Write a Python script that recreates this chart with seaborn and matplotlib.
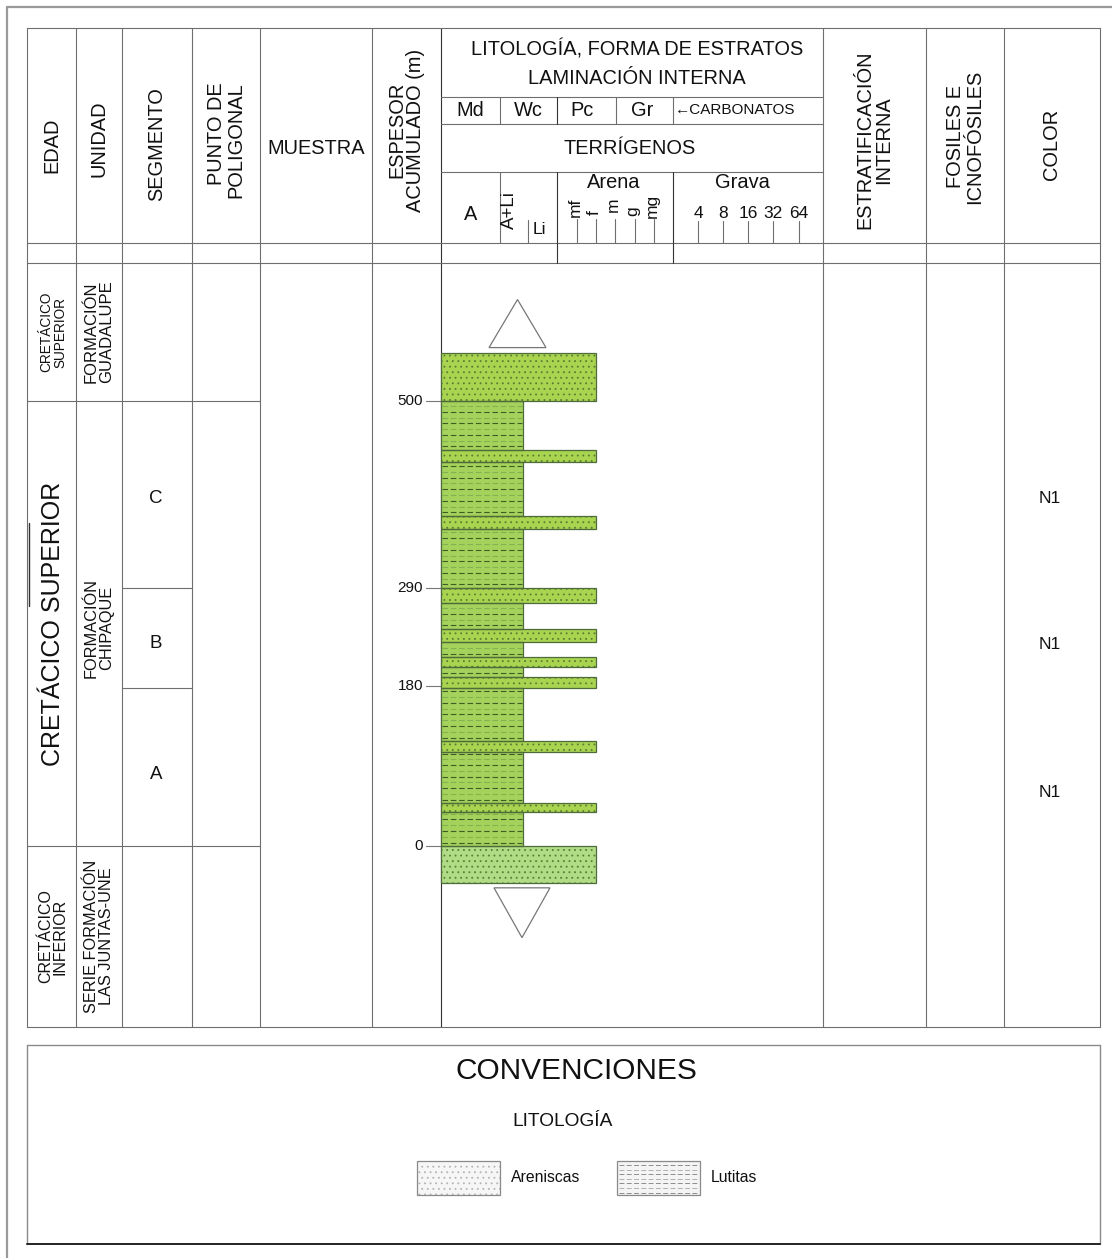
import numpy as np
import pandas as pd
import matplotlib
matplotlib.use("Agg")
import matplotlib.pyplot as plt
import seaborn as sns
from matplotlib.patches import Rectangle, Polygon

# ---------------- data ----------------
bed_base_m = [-42, 0, 38, 48, 106, 118, 178, 190, 201, 212, 229, 244, 273, 290, 356, 371, 431, 445, 500]
bed_top_m = [0, 38, 48, 106, 118, 178, 190, 201, 212, 229, 244, 273, 290, 356, 371, 431, 445, 500, 554]
bed_lith = ["Arenisca", "Lutita", "Arenisca", "Lutita", "Arenisca", "Lutita", "Arenisca",
            "Lutita", "Arenisca", "Lutita", "Arenisca", "Lutita", "Arenisca", "Lutita",
            "Arenisca", "Lutita", "Arenisca", "Lutita", "Arenisca"]
bed_grain = ["f" if l == "Arenisca" else "Li" for l in bed_lith]
bed_unit = ["Las Juntas"] + ["Chipaque"] * 17 + ["Guadalupe"]

thickness_ticks_m = [0, 180, 290, 500]
formation_bounds_m = [0, 500]
segment_bounds_m = [178, 290]
segment_names = ["A", "B", "C"]
segment_label_m = [80, 228, 390]
color_label_m = [60, 226, 391]
color_codes = ["N1", "N1", "N1"]

age_labels = ["CRETÁCICO\nINFERIOR", "CRETÁCICO SUPERIOR", "CRETÁCICO\nSUPERIOR"]
unit_labels = ["SERIE FORMACIÓN\nLAS JUNTAS-UNE", "FORMACIÓN\nCHIPAQUE", "FORMACIÓN\nGUADALUPE"]

arena_classes = ["mf", "f", "m", "g", "mg"]
grava_classes = ["4", "8", "16", "32", "64"]
carb_classes = ["Md", "Wc", "Pc", "Gr"]

# ---------------- layout / style ----------------
W, H = 1112, 1258
sns.set_theme(style="white")
plt.rcParams["font.family"] = ["Liberation Sans", "DejaVu Sans"]
plt.rcParams["hatch.linewidth"] = 0.6

LINE = "#6e6e6e"
DARK = "#333333"
LW = 0.8
FS = 14.4
TXT = "#111111"

fig = plt.figure(figsize=(W / 100, H / 100), dpi=100)
ax = fig.add_axes([0, 0, 1, 1])
ax.set_xlim(0, W)
ax.set_ylim(H, 0)
ax.axis("off")

# outer frame
ax.plot([7, W], [7, 7], color="#9a9a9a", lw=1.6)
ax.plot([7, 7], [7, H], color="#9a9a9a", lw=1.6)

T_TOP, T_HDR, T_ROW, T_BOT = 28, 243, 263, 1027
XL, XR = 27, 1100
cols = [27, 76, 122, 192, 260, 372, 441, 823, 926, 1004, 1100]
for x in cols:
    ax.plot([x, x], [T_TOP, T_BOT], color=DARK if x == 441 else LINE, lw=LW)
for y in [T_TOP, T_HDR, T_ROW, T_BOT]:
    ax.plot([XL, XR], [y, y], color=LINE, lw=LW)
# darker stroke on left border
ax.plot([29, 29], [523, 606], color=DARK, lw=1.0)

# lithology header internal lines
for y in [97, 124, 172]:
    ax.plot([441, 823], [y, y], color=LINE, lw=LW)
ax.plot([500, 500], [97, 124], color=LINE, lw=LW)
ax.plot([500, 500], [172, 243], color=LINE, lw=LW)
ax.plot([557, 557], [97, 124], color=DARK, lw=LW)
ax.plot([557, 557], [172, 263], color=DARK, lw=LW)
ax.plot([616, 616], [97, 124], color=LINE, lw=LW)
ax.plot([673, 673], [97, 124], color=LINE, lw=LW)
ax.plot([673, 673], [172, 263], color=DARK, lw=LW)
ax.plot([528, 528], [220, 243], color=LINE, lw=LW)

# header texts
def vtext(x, y, s, fs=FS, ma="center"):
    ax.text(x, y, s, rotation=90, ha="center", va="center", fontsize=fs,
            multialignment=ma, linespacing=1.0, color=TXT)

vtext(52, 145, "EDAD")
vtext(99, 139, "UNIDAD")
vtext(157, 144, "SEGMENTO")
vtext(226, 140, "PUNTO DE\nPOLIGONAL", ma="right")
ax.text(316, 148, "MUESTRA", ha="center", va="center", fontsize=FS, color=TXT)
vtext(406, 130, "ESPESOR\nACUMULADO (m)")
vtext(874, 140, "ESTRATIFICACIÓN\nINTERNA")
vtext(965, 137, "FOSILES E\nICNOFÓSILES")
vtext(1052, 144, "COLOR")

ax.text(637, 49, "LITOLOGÍA, FORMA DE ESTRATOS", ha="center", va="center", fontsize=FS, color=TXT)
ax.text(637, 79, "LAMINACIÓN INTERNA", ha="center", va="center", fontsize=FS, color=TXT)
for s, x in zip(carb_classes, [470, 528, 582, 642]):
    ax.text(x, 111, s, ha="center", va="center", fontsize=FS, color=TXT)
ax.text(675, 110, "←CARBONATOS", ha="left", va="center", fontsize=11, color=TXT)
ax.text(630, 148, "TERRÍGENOS", ha="center", va="center", fontsize=FS, color=TXT)
ax.text(471, 215, "A", ha="center", va="center", fontsize=FS, color=TXT)
vtext(509, 210, "A+Li", fs=13.5)
ax.text(539, 229, "Li", ha="center", va="center", fontsize=12.5, color=TXT)
ax.text(614, 183, "Arena", ha="center", va="center", fontsize=FS, color=TXT)
ax.text(742, 183, "Grava", ha="center", va="center", fontsize=FS, color=TXT)
arena_x = [577, 596, 615, 635, 654]
arena_ty = [207, 213, 205, 211, 206]
for s, x, ty in zip(arena_classes, arena_x, arena_ty):
    ax.text(x - 2, ty, s, rotation=90, ha="center", va="center", fontsize=12.5, color=TXT)
    ax.plot([x, x], [219, 243], color=LINE, lw=LW)
grava_x = [698, 723, 748, 773, 799]
for s, x in zip(grava_classes, grava_x):
    ax.text(x, 213, s, ha="center", va="center", fontsize=12.5, color=TXT)
    ax.plot([x, x], [221, 243], color=LINE, lw=LW)

# ---------------- body axes (meters) ----------------
Y0_PX, PX_PER_M = 846, 0.89
ytop_m = (Y0_PX - T_ROW) / PX_PER_M
ybot_m = (Y0_PX - T_BOT) / PX_PER_M
axb = fig.add_axes([XL / W, 1 - T_BOT / H, (XR - XL) / W, (T_BOT - T_ROW) / H])
axb.set_xlim(XL, XR)
axb.set_ylim(ybot_m, ytop_m)
axb.axis("off")
axb.patch.set_alpha(0)

for m in formation_bounds_m:
    axb.plot([27, 260], [m, m], color=LINE, lw=LW)
for m in segment_bounds_m:
    axb.plot([122, 192], [m, m], color=LINE, lw=LW)

age_int = [(ybot_m, 0), (0, 500), (500, ytop_m)]
age_fs = [11.5, 18, 9.8]
unit_fs = [11.7, 11.8, 12]
for (a, b), s, fs in zip(age_int, age_labels, age_fs):
    axb.text(53, (a + b) / 2, s, rotation=90, ha="center", va="center", fontsize=fs,
             linespacing=1.0, color=TXT)
for (a, b), s, fs in zip(age_int, unit_labels, unit_fs):
    axb.text(99, (a + b) / 2 - (5 if "CHIPAQUE" in s else 0), s, rotation=90, ha="center",
             va="center", fontsize=fs, linespacing=1.0, color=TXT)
for s, m in zip(segment_names, segment_label_m):
    axb.text(156, m, s, ha="center", va="center", fontsize=13.5, color=TXT)
for s, m in zip(color_codes, color_label_m):
    axb.text(1050, m, s, ha="center", va="center", fontsize=12.5, color=TXT)

for m in thickness_ticks_m:
    axb.plot([426, 441], [m, m], color="#777777", lw=LW)
    axb.text(423, m, str(m), ha="right", va="center", fontsize=11, color=TXT)

# lithologic column
COL_X0 = 441
grain_edge = {"Li": 523, "f": 596}
df = pd.DataFrame({"base": bed_base_m, "top": bed_top_m, "lith": bed_lith,
                   "grain": bed_grain, "unit": bed_unit})
df["thick"] = df["top"] - df["base"]
df["width"] = df["grain"].map(grain_edge) - COL_X0

SAND = "#a8d450"
SAND_LIGHT = "#b0dc86"
SHALE = "#a4d25c"
DASH_STEP = 6.5
for _, r in df.iterrows():
    if r.lith == "Arenisca":
        fill = SAND_LIGHT if r.unit == "Las Juntas" else SAND
        axb.barh(r.base, r.width, height=r.thick, left=COL_X0, align="edge",
                 color=fill, edgecolor="#5a7d34", linewidth=0, hatch="...", zorder=2)
    else:
        axb.barh(r.base, r.width, height=r.thick, left=COL_X0, align="edge",
                 color=SHALE, linewidth=0, zorder=2)
        ys = np.arange(r.base + DASH_STEP * 0.6, r.top - 1.5, DASH_STEP)
        for i, yy in enumerate(ys):
            c = "#3f5e25" if i % 2 == 0 else "#82b24a"
            axb.plot([COL_X0 + 1, COL_X0 + r.width - 1], [yy, yy], color=c, lw=0.8,
                     linestyle=(0, (5, 2.5)), zorder=3)
    axb.barh(r.base, r.width, height=r.thick, left=COL_X0, align="edge",
             fill=False, edgecolor="#4f6b3a", linewidth=0.9, zorder=4)

top_m = df["top"].max()
bot_m = df["base"].min()
axb.add_patch(Polygon([[489, top_m + 6], [546, top_m + 6], [517.5, top_m + 60]],
                      closed=True, facecolor="white", edgecolor="#777777", lw=0.9, zorder=5))
axb.add_patch(Polygon([[494, bot_m - 5], [550, bot_m - 5], [522, bot_m - 61]],
                      closed=True, facecolor="white", edgecolor="#777777", lw=0.9, zorder=5))

# ---------------- legend ----------------
ax.plot([27, 1100], [1045, 1045], color="#8a8a8a", lw=1.0)
ax.plot([27, 27], [1045, 1244], color="#8a8a8a", lw=1.0)
ax.plot([1100, 1100], [1045, 1244], color="#8a8a8a", lw=1.0)
ax.plot([27, 1100], [1244, 1244], color="#222222", lw=1.4)
ax.text(576, 1071, "CONVENCIONES", ha="center", va="center", fontsize=21.5, color=TXT)
ax.text(563, 1121, "LITOLOGÍA", ha="center", va="center", fontsize=13.8, color=TXT)
ax.add_patch(Rectangle((417, 1161), 83, 34, facecolor="#f6f6f6", edgecolor="#b5b5b5",
                       hatch="...", lw=0))
ax.add_patch(Rectangle((417, 1161), 83, 34, fill=False, edgecolor="#8a8a8a", lw=0.9))
ax.text(511, 1178, "Areniscas", ha="left", va="center", fontsize=11.3, color=TXT)
ax.add_patch(Rectangle((617, 1161), 83, 34, facecolor="#f4f4f4", lw=0))
for i, yy in enumerate(np.arange(1165, 1194, 4.6)):
    ax.plot([619, 698], [yy, yy], color="#8d8d8d" if i % 2 == 0 else "#b0b0b0", lw=0.7,
            linestyle=(0, (5, 2.5)))
ax.add_patch(Rectangle((617, 1161), 83, 34, fill=False, edgecolor="#8a8a8a", lw=0.9))
ax.text(711, 1178, "Lutitas", ha="left", va="center", fontsize=11.3, color=TXT)

fig.savefig("out.png", dpi=100, facecolor="white")
